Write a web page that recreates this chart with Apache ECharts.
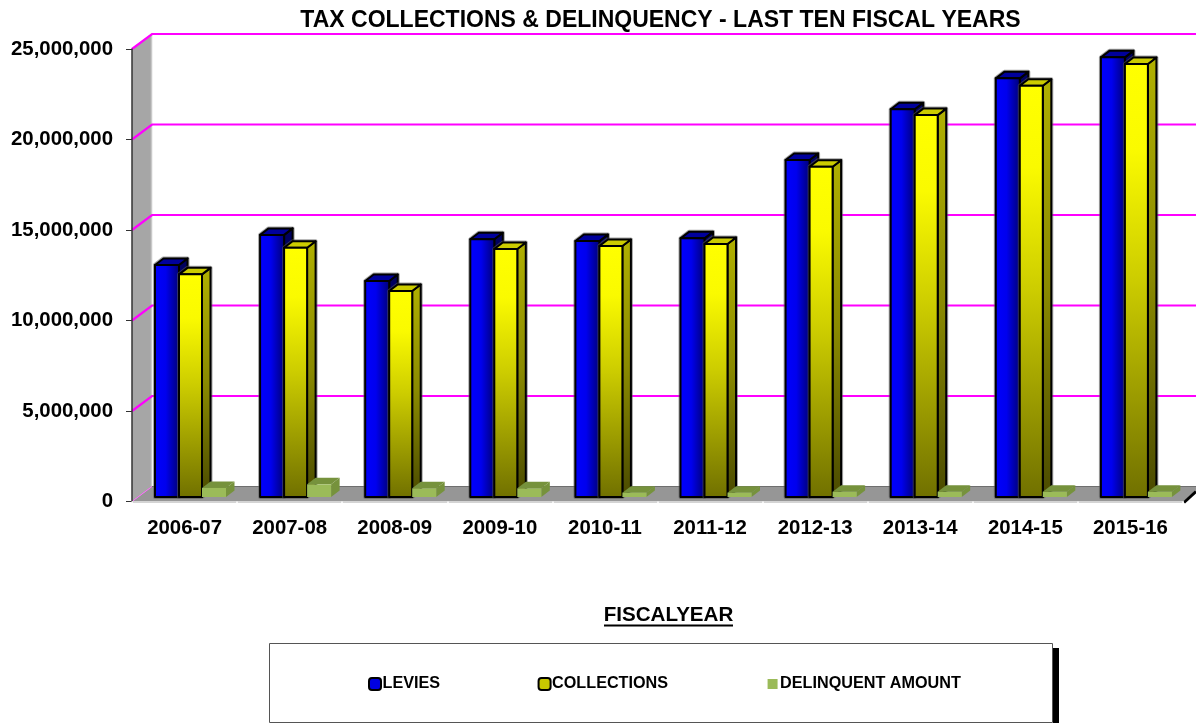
<!DOCTYPE html>
<html>
<head>
<meta charset="utf-8">
<style>html,body{margin:0;padding:0;background:#fff}#chart{width:1196px;height:723px}</style>
<script src="https://cdn.jsdelivr.net/npm/echarts@6/dist/echarts.min.js"></script>
</head>
<body>
<div id="chart"></div>
<script>
const fiscalYears = ['2006-07','2007-08','2008-09','2009-10','2010-11','2011-12','2012-13','2013-14','2014-15','2015-16'];
const levies = [12820000,14480000,11930000,14240000,14140000,14290000,18620000,21420000,23130000,24290000];
const collections = [12300000,13770000,11380000,13700000,13870000,13980000,18250000,21100000,22720000,23920000];
const delinquentAmount = [500000,700000,480000,480000,240000,240000,290000,290000,290000,290000];
const yTicks = [5000000,10000000,15000000,20000000,25000000];

const FONT = '"Liberation Sans", Arial, sans-serif';
const WALL_DX = 20, WALL_DY = -15;      // depth of the side wall and floor
const BAR_DX = 8.5, BAR_DY = -6.5;      // depth of each 3D bar
const BAR_LIFT = -4.5;                  // bars stand part way back on the floor

function gradient(x2, y2, stops) {
  return { type: 'linear', x: 0, y: 0, x2, y2, colorStops: stops.map(s => ({ offset: s[0], color: s[1] })) };
}

const looks = {
  levies: {
    start: 23, width: 24, edge: '#000', edgeWidth: 2, halo: true,
    front: gradient(1, 0, [[0, '#0000ff'], [0.45, '#0000ee'], [1, '#000070']]),
    top: '#00009c', side: '#000060'
  },
  collections: {
    start: 47, width: 23, edge: '#000', edgeWidth: 2, halo: true,
    front: gradient(0, 1, [[0, '#ffff00'], [0.2, '#fafa00'], [0.5, '#cccc00'], [1, '#707000']]),
    top: '#cccc00',
    side: gradient(0, 1, [[0, '#b0b000'], [0.5, '#8a8a00'], [1, '#4a4a00']])
  },
  delinquent: {
    start: 70, width: 24, edge: 'rgba(0,0,0,0)', edgeWidth: 0, halo: false,
    front: '#9bbb59', top: '#76923c', side: '#76923c'
  }
};

// Builds one extruded bar from the value's position on the axes.
function bar3d(look) {
  return function (params, api) {
    const i = api.value(0);
    const band = api.size([1, 0])[0];
    const top = api.coord([i, api.value(1)]);
    const base = api.coord([i, 0]);
    const x0 = top[0] - band / 2 + look.start;
    const x1 = x0 + look.width;
    const yT = top[1] + BAR_LIFT;
    const yB = base[1] + BAR_LIFT;
    const st = { stroke: look.edge, lineWidth: look.edgeWidth, lineJoin: 'round' };
    const poly = (points, fill) => ({ type: 'polygon', shape: { points }, style: Object.assign({ fill }, st) });
    const outline = [[x0, yB], [x0, yT], [x0 + BAR_DX, yT + BAR_DY], [x1 + BAR_DX, yT + BAR_DY], [x1 + BAR_DX, yB + BAR_DY], [x1, yB]];
    const children = [];
    if (look.halo) {
      children.push({ type: 'polygon', shape: { points: outline }, style: { fill: 'none', stroke: 'rgba(90,90,90,0.55)', lineWidth: 4, lineJoin: 'round' } });
    }
    children.push(
      poly([[x1, yT], [x1 + BAR_DX, yT + BAR_DY], [x1 + BAR_DX, yB + BAR_DY], [x1, yB]], look.side),
      poly([[x0, yT], [x0 + BAR_DX, yT + BAR_DY], [x1 + BAR_DX, yT + BAR_DY], [x1, yT]], look.top),
      poly([[x0, yT], [x1, yT], [x1, yB], [x0, yB]], look.front)
    );
    return { type: 'group', children };
  };
}

// Side wall and floor of the plot box.
function renderFrame(params, api) {
  const c = params.coordSys;
  const L = c.x, R = c.x + c.width, T = c.y, B = c.y + c.height;
  const edge = 1196;
  return {
    type: 'group',
    children: [
      { type: 'polygon', shape: { points: [[L, T], [L + WALL_DX, T + WALL_DY], [L + WALL_DX, B + WALL_DY], [L, B]] }, style: { fill: '#a6a6a6' } },
      { type: 'line', shape: { x1: L + WALL_DX - 0.5, y1: T + WALL_DY, x2: L + WALL_DX - 0.5, y2: B + WALL_DY }, style: { stroke: '#c8c8c8', lineWidth: 1.5 } },
      { type: 'polygon', shape: { points: [[L, B], [L + WALL_DX, B + WALL_DY], [edge, B + WALL_DY], [edge, B - 11], [R, B]] }, style: { fill: '#969696' } },
      { type: 'line', shape: { x1: L + WALL_DX, y1: B + WALL_DY, x2: edge, y2: B + WALL_DY }, style: { stroke: '#6e6e6e', lineWidth: 1 } },
      { type: 'line', shape: { x1: R + 1, y1: B + 1, x2: edge, y2: B - 10 }, style: { stroke: '#000', lineWidth: 3 } },
      { type: 'line', shape: { x1: L, y1: B, x2: L + WALL_DX, y2: B + WALL_DY }, style: { stroke: '#ff66ff', lineWidth: 1 } }
    ]
  };
}

// A grid line: slanted across the wall, then straight along the back.
function renderGridLine(params, api) {
  const c = params.coordSys;
  const p = api.coord([0, api.value(1)]);
  return {
    type: 'polyline',
    shape: { points: [[c.x, p[1]], [c.x + WALL_DX, p[1] + WALL_DY], [1196, p[1] + WALL_DY]] },
    style: { fill: 'none', stroke: '#ff00ff', lineWidth: 2.2 }
  };
}

const pairs = values => values.map((v, i) => [i, v]);

const option = {
  animation: false,
  backgroundColor: '#fff',
  textStyle: { fontFamily: FONT },
  title: [
    { text: 'TAX COLLECTIONS & DELINQUENCY - LAST TEN FISCAL YEARS', left: 655.5, top: 4, textAlign: 'center',
      textStyle: { fontFamily: FONT, fontSize: 23, fontWeight: 'bold', color: '#000' } },
    { text: 'FISCALYEAR', left: 663.5, top: 600, textAlign: 'center',
      textStyle: { fontFamily: FONT, fontSize: 20.6, fontWeight: 'bold', color: '#000' } }
  ],
  grid: { left: 132, top: 49, width: 1051, height: 452.5 },
  xAxis: {
    type: 'category', data: fiscalYears, offset: 1.5, z: 5,
    axisLine: { lineStyle: { color: '#d4d4d4', width: 2 } },
    axisTick: { show: true, length: 2, lineStyle: { color: '#fff', width: 1.5 } },
    axisLabel: { color: '#000', fontFamily: FONT, fontSize: 20.4, fontWeight: 'bold', margin: 15 }
  },
  yAxis: {
    type: 'value', min: 0, max: 25000000, interval: 5000000, z: 5,
    axisLine: { show: true, lineStyle: { color: '#333', width: 1.5 } },
    axisTick: { show: true, length: 6, lineStyle: { color: '#333', width: 1 } },
    splitLine: { show: false },
    axisLabel: { color: '#000', fontFamily: FONT, fontSize: 20.4, fontWeight: 'bold', margin: 19, padding: [4, 0, 0, 0],
      formatter: v => v.toLocaleString('en-US') }
  },
  legend: {
    left: 368, top: 676, padding: 0, itemWidth: 12, itemHeight: 12, itemGap: 97.5, icon: 'roundRect',
    textStyle: { fontFamily: FONT, fontSize: 16.2, fontWeight: 'bold', color: '#000', padding: [0, 0, 0, -3.5] },
    data: [
      { name: 'LEVIES', itemStyle: { color: '#0000e0', borderColor: '#000', borderWidth: 2 } },
      { name: 'COLLECTIONS', itemStyle: { color: '#c8c800', borderColor: '#000', borderWidth: 2 } },
      { name: 'DELINQUENT AMOUNT', icon: 'rect', itemStyle: { color: '#9bbb59', borderColor: '#fff', borderWidth: 2 } }
    ]
  },
  graphic: [
    { type: 'rect', z: -2, shape: { x: 1053, y: 648, width: 6, height: 75 }, style: { fill: '#000' } },
    { type: 'rect', z: -1, shape: { x: 269.5, y: 643.5, width: 783, height: 79 }, style: { fill: '#fff', stroke: '#555', lineWidth: 1 } },
    { type: 'rect', z: 10, shape: { x: 604, y: 624.5, width: 129, height: 2 }, style: { fill: '#000' } }
  ],
  series: [
    { type: 'custom', name: 'frame', silent: true, z: 1, data: [[0, 0]], encode: { x: 0, y: 1 }, renderItem: renderFrame },
    { type: 'custom', name: 'grid lines', silent: true, z: 1, data: yTicks.map(v => [0, v]), encode: { x: 0, y: 1 }, renderItem: renderGridLine },
    { type: 'custom', name: 'LEVIES', z: 2, data: pairs(levies), encode: { x: 0, y: 1 }, renderItem: bar3d(looks.levies) },
    { type: 'custom', name: 'COLLECTIONS', z: 2, data: pairs(collections), encode: { x: 0, y: 1 }, renderItem: bar3d(looks.collections) },
    { type: 'custom', name: 'DELINQUENT AMOUNT', z: 2, data: pairs(delinquentAmount), encode: { x: 0, y: 1 }, renderItem: bar3d(looks.delinquent) }
  ]
};

echarts.init(document.getElementById('chart'), null, { renderer: 'canvas' }).setOption(option);
</script>
</body>
</html>
